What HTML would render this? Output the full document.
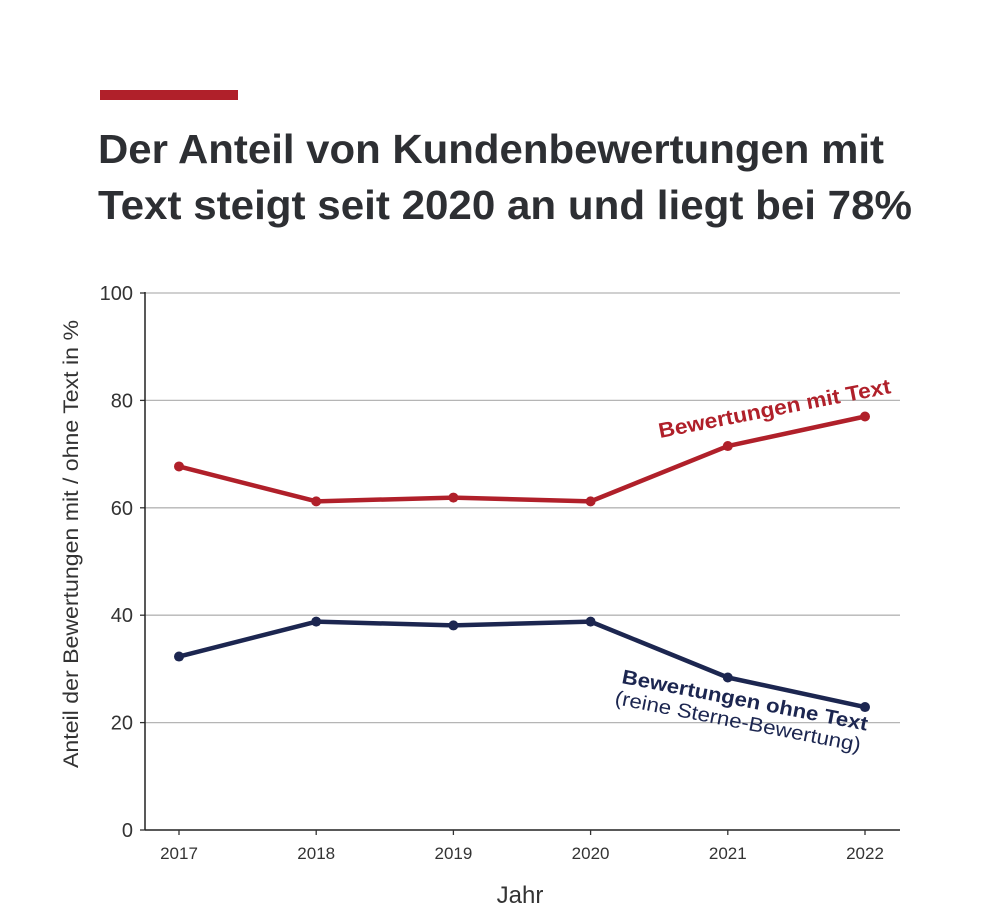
<!DOCTYPE html>
<html><head><meta charset="utf-8"><style>
body{margin:0;background:#fff;width:1000px;height:910px;overflow:hidden;font-family:"Liberation Sans",sans-serif}
</style></head><body>
<svg width="1000" height="910" xmlns="http://www.w3.org/2000/svg">
<rect x="100" y="90" width="138" height="10" fill="#b0202a"/>
<text x="98" y="163" font-size="41" font-weight="bold" fill="#2d2f33" textLength="786" lengthAdjust="spacingAndGlyphs">Der Anteil von Kundenbewertungen mit</text>
<text x="98" y="219" font-size="41" font-weight="bold" fill="#2d2f33" textLength="814" lengthAdjust="spacingAndGlyphs">Text steigt seit 2020 an und liegt bei 78%</text>
<g id="grid"></g>
<g id="axes"></g>
<g id="series"></g>
<text transform="translate(78,544) rotate(-90)" text-anchor="middle" font-size="21" fill="#333" textLength="448" lengthAdjust="spacingAndGlyphs">Anteil der Bewertungen mit / ohne Text in %</text>
<text x="520" y="903" text-anchor="middle" font-size="24" fill="#333">Jahr</text>
<text transform="translate(660,438) rotate(-11)" font-size="21" font-weight="bold" fill="#b0202a" textLength="236" lengthAdjust="spacingAndGlyphs">Bewertungen mit Text</text>
<text transform="translate(621,683) rotate(11)" font-size="20" font-weight="bold" fill="#1c2650" textLength="250" lengthAdjust="spacingAndGlyphs">Bewertungen ohne Text</text>
<text transform="translate(614,704) rotate(11)" font-size="20" fill="#1c2650" textLength="250" lengthAdjust="spacingAndGlyphs">(reine Sterne-Bewertung)</text>
</svg>
<script>
const years=["2017","2018","2019","2020","2021","2022"];
const withText=[67.7,61.2,61.9,61.2,71.5,77.0];
const withoutText=[32.3,38.8,38.1,38.8,28.4,22.9];
const yTicks=[0,20,40,60,80,100];
const NS="http://www.w3.org/2000/svg";
const xs=i=>179+i*137.2;
const ys=v=>830-v*5.37;
function mk(tag,attrs,parent,txt){const e=document.createElementNS(NS,tag);for(const k in attrs)e.setAttribute(k,attrs[k]);if(txt!==undefined)e.textContent=txt;document.getElementById(parent).appendChild(e);return e;}
yTicks.forEach(t=>{
  if(t>0){const l=mk('line',{x1:145,x2:900,y1:ys(t),y2:ys(t),stroke:'#b5b5b5','stroke-width':1.3},'grid');
  
  }
  const tk=mk('line',{x1:140,x2:145,y1:ys(t),y2:ys(t),stroke:'#333','stroke-width':1.3},'axes');
  
  
  const tx=mk('text',{x:133,y:ys(t)+7,'text-anchor':'end','font-size':20,fill:'#333'},'axes',String(t));
  
  
});
const ya=mk('line',{x1:145,x2:145,y1:292,y2:830,stroke:'#222','stroke-width':1.5},'axes');


const xa=mk('line',{x1:145,x2:900,y1:830,y2:830,stroke:'#222','stroke-width':1.5},'axes');


years.forEach((y,i)=>{
  const tk=mk('line',{x1:xs(i),x2:xs(i),y1:830,y2:835,stroke:'#333','stroke-width':1.3},'axes');
  
  
  const tx=mk('text',{x:xs(i),y:859,'text-anchor':'middle','font-size':17,fill:'#333'},'axes',y);
  
  
});
function series(vals,color,name){
  const p=mk('polyline',{points:vals.map((v,i)=>xs(i)+','+ys(v)).join(' '),fill:'none',stroke:color,'stroke-width':4.5,'stroke-linejoin':'round'},'series');
  
  
  vals.forEach((v,i)=>{
    const c=mk('circle',{cx:xs(i),cy:ys(v),r:5,fill:color},'series');
    
    
  });
}
series(withText,'#b0202a','with-text');
series(withoutText,'#1c2650','without-text');
</script>
</body></html>
